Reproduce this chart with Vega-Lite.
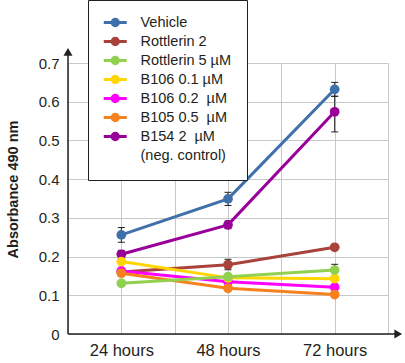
{
  "$schema": "https://vega.github.io/schema/vega-lite/v6.json",
  "width": 320,
  "height": 271,
  "autosize": {"type": "none"},
  "padding": {"left": 68, "top": 63, "right": 17, "bottom": 29},
  "config": {"view": {"stroke": null}, "font": "Liberation Sans"},
  "datasets": {
    "obs": [
      {"t": 24, "s": "B154 2\u00a0 µM", "v": 0.206},
      {"t": 48, "s": "B154 2\u00a0 µM", "v": 0.282},
      {"t": 72, "s": "B154 2\u00a0 µM", "v": 0.574},
      {"t": 24, "s": "Rottlerin 2", "v": 0.160},
      {"t": 48, "s": "Rottlerin 2", "v": 0.179},
      {"t": 72, "s": "Rottlerin 2", "v": 0.224},
      {"t": 24, "s": "Vehicle", "v": 0.256},
      {"t": 48, "s": "Vehicle", "v": 0.349},
      {"t": 72, "s": "Vehicle", "v": 0.632},
      {"t": 24, "s": "B106 0.2\u00a0 µM", "v": 0.163},
      {"t": 48, "s": "B106 0.2\u00a0 µM", "v": 0.135},
      {"t": 72, "s": "B106 0.2\u00a0 µM", "v": 0.121},
      {"t": 24, "s": "B105 0.5\u00a0 µM", "v": 0.157},
      {"t": 48, "s": "B105 0.5\u00a0 µM", "v": 0.118},
      {"t": 72, "s": "B105 0.5\u00a0 µM", "v": 0.102},
      {"t": 24, "s": "B106 0.1 µM", "v": 0.187},
      {"t": 48, "s": "B106 0.1 µM", "v": 0.145},
      {"t": 72, "s": "B106 0.1 µM", "v": 0.143},
      {"t": 24, "s": "Rottlerin 5 µM", "v": 0.131},
      {"t": 48, "s": "Rottlerin 5 µM", "v": 0.148},
      {"t": 72, "s": "Rottlerin 5 µM", "v": 0.165}
    ],
    "err": [
      {"t": 24, "s": "Vehicle", "v": 0.237, "v2": 0.275},
      {"t": 48, "s": "Vehicle", "v": 0.332, "v2": 0.366},
      {"t": 72, "s": "Vehicle", "v": 0.614, "v2": 0.650},
      {"t": 24, "s": "B154 2\u00a0 µM", "v": 0.196, "v2": 0.216},
      {"t": 48, "s": "B154 2\u00a0 µM", "v": 0.272, "v2": 0.292},
      {"t": 72, "s": "B154 2\u00a0 µM", "v": 0.522, "v2": 0.614},
      {"t": 48, "s": "Rottlerin 2", "v": 0.166, "v2": 0.193},
      {"t": 72, "s": "Rottlerin 5 µM", "v": 0.150, "v2": 0.180}
    ],
    "axes": [
      {"t": 12, "t2": 86, "v": 0, "v2": 0},
      {"t": 12, "t2": 12, "v": 0, "v2": 0.725}
    ],
    "arrows": [
      {"t": 86.3, "v": 0, "shape": "triangle-right"},
      {"t": 12, "v": 0.729, "shape": "triangle-up"}
    ]
  },
  "encoding": {
    "x": {
      "field": "t", "type": "quantitative",
      "scale": {"domain": [12, 84], "nice": false, "zero": false},
      "axis": {
        "title": null, "values": [12, 24, 36, 48, 60, 72, 84],
        "labelExpr": "datum.value % 24 == 0 ? datum.value + ' hours' : ''",
        "ticks": false, "domain": false, "grid": true, "gridColor": "#c8c8c8", "gridWidth": 1,
        "labelFontSize": 16.5, "labelColor": "#231f20", "labelPadding": 8, "labelFont": "Liberation Sans",
        "labelBaseline": "top", "labelFlush": false
      }
    },
    "y": {
      "field": "v", "type": "quantitative",
      "scale": {"domain": [0, 0.7], "nice": false, "zero": false},
      "axis": {
        "title": "Absorbance 490 nm", "values": [0, 0.1, 0.2, 0.3, 0.4, 0.5, 0.6, 0.7],
        "format": ".1~f", "ticks": false, "domain": false, "grid": true, "gridColor": "#c8c8c8", "gridWidth": 1,
        "labelFontSize": 15, "labelColor": "#231f20", "labelPadding": 9, "labelFont": "Liberation Sans", "labelFlush": false,
        "titleFontSize": 14.5, "titleFontWeight": "bold", "titleColor": "#231f20", "titleFont": "Liberation Sans",
        "titleX": -51, "titleY": 126, "titleAngle": -90, "titleAlign": "center", "titleBaseline": "alphabetic"
      }
    }
  },
  "layer": [
    {
      "data": {"name": "axes"},
      "mark": {"type": "rule", "color": "#231f20", "strokeWidth": 1.5},
      "encoding": {
        "x2": {"field": "t2"},
        "y2": {"field": "v2"}
      }
    },
    {
      "data": {"name": "arrows"},
      "mark": {"type": "point", "filled": true, "opacity": 1, "color": "#231f20", "size": 80, "clip": false},
      "encoding": {
        "shape": {"field": "shape", "type": "nominal", "scale": null, "legend": null}
      }
    },
    {
      "data": {"name": "err"},
      "mark": {"type": "rule", "color": "#231f20", "strokeWidth": 1},
      "encoding": {
        "y2": {"field": "v2"}
      }
    },
    {
      "data": {"name": "err"},
      "mark": {"type": "tick", "color": "#231f20", "thickness": 1, "size": 7, "orient": "horizontal", "opacity": 1},
      "encoding": {}
    },
    {
      "data": {"name": "err"},
      "mark": {"type": "tick", "color": "#231f20", "thickness": 1, "size": 7, "orient": "horizontal", "opacity": 1},
      "encoding": {
        "y": {"field": "v2", "type": "quantitative"}
      }
    },
    {
      "data": {"name": "obs"},
      "mark": {"type": "line", "strokeWidth": 3},
      "encoding": {
        "color": {
          "field": "s", "type": "nominal",
          "scale": {
            "domain": ["Vehicle", "Rottlerin 2", "Rottlerin 5 µM", "B106 0.1 µM", "B106 0.2\u00a0 µM", "B105 0.5\u00a0 µM", "B154 2\u00a0 µM", "(neg. control)"],
            "range": ["#3f70aa", "#a8423a", "#92d050", "#ffd600", "#ff00ff", "#f5821f", "#990099", "#ffffff"]
          },
          "legend": {
            "orient": "none", "legendX": 20, "legendY": -63, "title": null,
            "strokeColor": "#231f20", "fillColor": "#ffffff", "padding": 15,
            "symbolType": "M-2,0L2,0M0.55,0A0.55,0.55,0,1,1,-0.55,0A0.55,0.55,0,1,1,0.55,0Z",
            "symbolSize": 132, "symbolStrokeWidth": 3, "symbolOpacity": 1, "symbolOffset": 4.75,
            "labelOffset": 17.75, "labelFontSize": 14.5, "labelFont": "Liberation Sans", "labelColor": "#231f20",
            "rowPadding": 0, "labelLimit": 300,
            "encode": {
              "symbols": {
                "update": {
                  "fill": {"scale": "color", "field": "value"},
                  "stroke": {"scale": "color", "field": "value"}
                }
              }
            }
          }
        }
      }
    },
    {
      "data": {"name": "obs"},
      "mark": {"type": "point", "filled": true, "opacity": 1, "size": 95},
      "encoding": {
        "color": {
          "field": "s", "type": "nominal",
          "scale": {
            "domain": ["Vehicle", "Rottlerin 2", "Rottlerin 5 µM", "B106 0.1 µM", "B106 0.2\u00a0 µM", "B105 0.5\u00a0 µM", "B154 2\u00a0 µM", "(neg. control)"],
            "range": ["#3f70aa", "#a8423a", "#92d050", "#ffd600", "#ff00ff", "#f5821f", "#990099", "#ffffff"]
          },
          "legend": {
            "orient": "none", "legendX": 20, "legendY": -63, "title": null,
            "strokeColor": "#231f20", "fillColor": "#ffffff", "padding": 15,
            "symbolType": "M-2,0L2,0M0.55,0A0.55,0.55,0,1,1,-0.55,0A0.55,0.55,0,1,1,0.55,0Z",
            "symbolSize": 132, "symbolStrokeWidth": 3, "symbolOpacity": 1, "symbolOffset": 4.75,
            "labelOffset": 17.75, "labelFontSize": 14.5, "labelFont": "Liberation Sans", "labelColor": "#231f20",
            "rowPadding": 0, "labelLimit": 300,
            "encode": {
              "symbols": {
                "update": {
                  "fill": {"scale": "color", "field": "value"},
                  "stroke": {"scale": "color", "field": "value"}
                }
              }
            }
          }
        }
      }
    }
  ]
}
